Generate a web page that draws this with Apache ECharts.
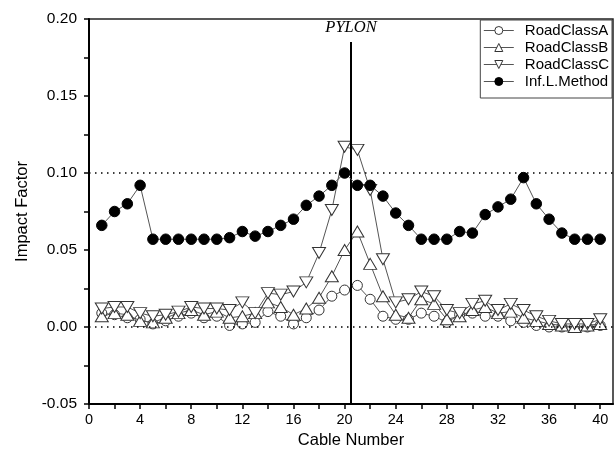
<!DOCTYPE html>
<html><head><meta charset="utf-8">
<script src="https://cdn.jsdelivr.net/npm/echarts@6/dist/echarts.min.js"></script>
<style>html,body{margin:0;padding:0;background:#fff}#c{width:616px;height:455px}</style>
</head><body><div id="c"></div>
<script>
var cables = [1,2,3,4,5,6,7,8,9,10,11,12,13,14,15,16,17,18,19,20,21,22,23,24,25,26,27,28,29,30,31,32,33,34,35,36,37,38,39,40];
var roadA = [0.009,0.008,0.006,0.005,0.002,0.004,0.007,0.009,0.006,0.007,0.001,0.002,0.003,0.010,0.007,0.002,0.006,0.011,0.020,0.024,0.027,0.018,0.007,0.005,0.005,0.009,0.007,0.003,0.008,0.009,0.007,0.007,0.004,0.003,0.001,0.000,0.000,0.000,0.000,0.001];
var roadB = [0.007,0.009,0.008,0.004,0.003,0.006,0.009,0.011,0.008,0.010,0.006,0.007,0.009,0.016,0.013,0.008,0.012,0.019,0.033,0.050,0.062,0.041,0.020,0.008,0.006,0.018,0.015,0.005,0.007,0.011,0.013,0.009,0.010,0.006,0.004,0.002,0.001,0.000,0.001,0.002];
var roadC = [0.012,0.013,0.013,0.009,0.007,0.008,0.010,0.013,0.012,0.012,0.011,0.016,0.009,0.022,0.021,0.023,0.029,0.048,0.076,0.117,0.115,0.089,0.044,0.016,0.018,0.023,0.020,0.011,0.009,0.015,0.017,0.011,0.015,0.011,0.007,0.004,0.002,0.002,0.002,0.005];
var inflMethod = [0.066,0.075,0.080,0.092,0.057,0.057,0.057,0.057,0.057,0.057,0.058,0.062,0.059,0.062,0.066,0.070,0.079,0.085,0.092,0.100,0.092,0.092,0.085,0.074,0.066,0.057,0.057,0.057,0.062,0.061,0.073,0.078,0.083,0.097,0.080,0.070,0.061,0.057,0.057,0.057];
var xLabelVals = [0,4,8,12,16,20,24,28,32,36,40];
var xTickVals = [0,2,4,6,8,10,12,14,16,18,20,22,24,26,28,30,32,34,36,38,40];
var refLines = [0.10, 0.00];
var pylonX = 20.5;
var seriesNames = ['RoadClassA','RoadClassB','RoadClassC','Inf.L.Method'];

function pairs(v){ return cables.map(function(c,i){ return [c, v[i]]; }); }

var chart = echarts.init(document.getElementById('c'), null, {renderer:'canvas'});
var FONT = 'Liberation Sans';
var lineCol = '#555';
var option = {
  animation: false,
  backgroundColor: '#fff',
  grid: {left: 89, right: 3, top: 19, bottom: 51, show: true, borderColor: '#222', borderWidth: 1.5, backgroundColor: 'transparent'},
  legend: {
    orient: 'vertical', right: 4, top: 20,
    backgroundColor: '#fff', borderColor: '#444', borderWidth: 1,
    padding: [3, 3, 9, 3], itemGap: 2, itemWidth: 30, itemHeight: 10,
    lineStyle: {width: 1},
    itemStyle: {borderWidth: 1},
    textStyle: {fontFamily: FONT, fontSize: 15, lineHeight: 15, color: '#000', padding: [0,0,0,6]},
    data: seriesNames
  },
  xAxis: {
    type: 'value', min: 0, max: 41,
    name: 'Cable Number', nameLocation: 'middle', nameGap: 28,
    nameTextStyle: {fontFamily: FONT, fontSize: 16.5, color: '#000'},
    axisLine: {show: true, onZero: false, lineStyle: {color: '#000', width: 2}},
    axisTick: {show: true, inside: false, length: 5, customValues: xTickVals, lineStyle: {color: '#000', width: 1.5}},
    axisLabel: {customValues: xLabelVals, margin: 8, fontFamily: FONT, fontSize: 14.5, color: '#000'},
    splitLine: {show: false}
  },
  yAxis: {
    type: 'value', min: -0.05, max: 0.20, interval: 0.05,
    name: 'Impact Factor', nameLocation: 'middle', nameGap: 57,
    nameTextStyle: {fontFamily: FONT, fontSize: 16.5, color: '#000'},
    axisLine: {show: true, onZero: false, lineStyle: {color: '#000', width: 2}},
    axisTick: {show: true, length: 5, lineStyle: {color: '#000', width: 1.5}},
    minorTick: {show: true, splitNumber: 2, length: 5, lineStyle: {color: '#000', width: 1.5}},
    axisLabel: {margin: 12, fontFamily: FONT, fontSize: 15.5, color: '#000', formatter: function(v){ return v.toFixed(2); }},
    splitLine: {show: false}
  },
  series: [
    {name: seriesNames[0], type: 'line', data: pairs(roadA), symbol: 'circle', symbolSize: 10,
     itemStyle: {color: '#fff', borderColor: '#333', borderWidth: 1},
     lineStyle: {color: lineCol, width: 1}, z: 2,
     markLine: {silent: true, symbol: 'none', animation: false,
       lineStyle: {color: '#000', type: [1.5, 4.5], width: 1.5},
       label: {show: false},
       data: refLines.map(function(v){ return {yAxis: v}; })}
    },
    {name: seriesNames[1], type: 'line', data: pairs(roadB), symbol: 'triangle', symbolSize: [13, 11],
     itemStyle: {color: '#fff', borderColor: '#333', borderWidth: 1},
     lineStyle: {color: lineCol, width: 1}, z: 3},
    {name: seriesNames[2], type: 'line', data: pairs(roadC), symbol: 'triangle', symbolRotate: 180, symbolSize: [13, 11],
     itemStyle: {color: '#fff', borderColor: '#333', borderWidth: 1},
     lineStyle: {color: lineCol, width: 1}, z: 4},
    {name: seriesNames[3], type: 'line', data: pairs(inflMethod), symbol: 'circle', symbolSize: 10.5,
     itemStyle: {color: '#000', borderColor: '#000', borderWidth: 1},
     lineStyle: {color: lineCol, width: 1}, z: 5,
     markLine: {silent: true, symbol: 'none', animation: false,
       lineStyle: {color: '#000', type: 'solid', width: 2},
       label: {show: true, position: 'start', formatter: 'PYLON', distance: 6,
         fontFamily: 'Liberation Serif', fontStyle: 'italic', fontSize: 16.5, color: '#000'},
       data: [[{coord: [pylonX, 0.185]}, {coord: [pylonX, -0.05]}]]}
    }
  ]
};
chart.setOption(option);
</script></body></html>
